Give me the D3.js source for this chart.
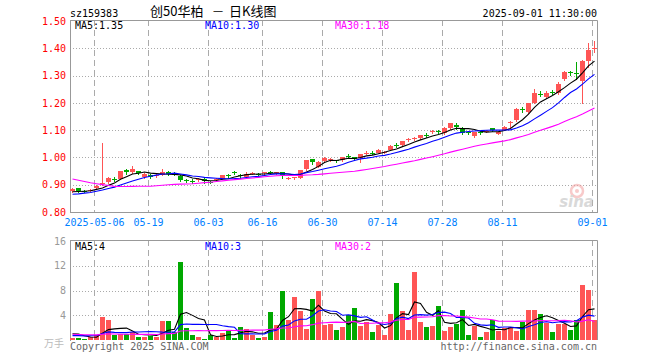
<!DOCTYPE html>
<html><head><meta charset="utf-8">
<script src="https://cdn.jsdelivr.net/npm/d3@7/dist/d3.min.js"></script>
<style>body{margin:0;background:#fff}svg{display:block}</style>
</head><body><svg id="c" width="660" height="360"></svg>
<script>
const dates = ["2025-04-25","2025-04-28","2025-04-29","2025-04-30","2025-05-06","2025-05-07","2025-05-08","2025-05-09","2025-05-12","2025-05-13",
"2025-05-14","2025-05-15","2025-05-16","2025-05-19","2025-05-20","2025-05-21","2025-05-22","2025-05-23","2025-05-26","2025-05-27",
"2025-05-28","2025-05-29","2025-05-30","2025-06-03","2025-06-04","2025-06-05","2025-06-06","2025-06-09","2025-06-10","2025-06-11",
"2025-06-12","2025-06-13","2025-06-16","2025-06-17","2025-06-18","2025-06-19","2025-06-20","2025-06-23","2025-06-24","2025-06-25",
"2025-06-26","2025-06-27","2025-06-30","2025-07-01","2025-07-02","2025-07-03","2025-07-04","2025-07-07","2025-07-08","2025-07-09",
"2025-07-10","2025-07-11","2025-07-14","2025-07-15","2025-07-16","2025-07-17","2025-07-18","2025-07-21","2025-07-22","2025-07-23",
"2025-07-24","2025-07-25","2025-07-28","2025-07-29","2025-07-30","2025-07-31","2025-08-01","2025-08-04","2025-08-05","2025-08-06",
"2025-08-07","2025-08-08","2025-08-11","2025-08-12","2025-08-13","2025-08-14","2025-08-15","2025-08-18","2025-08-19","2025-08-20",
"2025-08-21","2025-08-22","2025-08-25","2025-08-26","2025-08-27","2025-08-28","2025-08-29","2025-09-01"];
const opens = [0.878,0.888,0.877,0.878,0.890,0.905,0.910,0.922,0.921,0.954,
0.945,0.950,0.929,0.936,0.932,0.938,0.946,0.941,0.932,0.917,
0.915,0.917,0.921,0.911,0.918,0.923,0.936,0.946,0.934,0.930,
0.942,0.940,0.943,0.946,0.943,0.945,0.925,0.924,0.925,0.958,
0.993,0.966,0.987,0.991,0.990,0.990,1.007,1.000,0.996,1.015,
1.018,1.017,1.019,1.029,1.046,1.045,1.064,1.068,1.070,1.082,
1.093,1.096,1.088,1.107,1.119,1.107,1.094,1.077,1.094,1.095,
1.107,1.088,1.101,1.126,1.137,1.178,1.165,1.200,1.232,1.221,
1.240,1.234,1.287,1.313,1.308,1.280,1.352,1.398];
const highs = [0.887,0.889,0.879,0.884,0.899,1.054,0.928,0.928,0.952,0.958,
0.968,0.952,0.943,0.938,0.940,0.956,0.950,0.946,0.935,0.922,
0.920,0.925,0.923,0.915,0.924,0.937,0.938,0.950,0.938,0.946,
0.946,0.942,0.948,0.950,0.948,0.946,0.930,0.930,0.955,0.992,
0.995,0.986,1.000,0.997,0.992,1.003,1.014,1.002,1.012,1.022,
1.024,1.031,1.025,1.045,1.052,1.061,1.070,1.074,1.083,1.090,
1.100,1.100,1.112,1.126,1.125,1.110,1.098,1.095,1.098,1.100,
1.108,1.095,1.114,1.135,1.180,1.183,1.200,1.252,1.245,1.243,
1.246,1.276,1.317,1.318,1.348,1.356,1.421,1.428];
const lows = [0.875,0.874,0.872,0.876,0.888,0.900,0.908,0.912,0.920,0.938,
0.943,0.940,0.926,0.925,0.928,0.936,0.935,0.935,0.915,0.910,
0.908,0.915,0.908,0.905,0.915,0.921,0.925,0.938,0.926,0.928,
0.938,0.933,0.940,0.940,0.940,0.925,0.922,0.920,0.924,0.955,
0.975,0.964,0.985,0.987,0.983,0.988,0.998,0.990,0.985,1.012,
1.012,1.015,1.015,1.027,1.040,1.043,1.060,1.063,1.068,1.075,
1.090,1.088,1.087,1.106,1.105,1.086,1.085,1.075,1.086,1.092,
1.096,1.087,1.100,1.113,1.135,1.165,1.163,1.198,1.224,1.218,
1.232,1.232,1.285,1.303,1.288,1.200,1.330,1.388];
const closes = [0.885,0.876,0.875,0.882,0.897,0.908,0.926,0.918,0.950,0.945,
0.956,0.942,0.941,0.928,0.936,0.948,0.938,0.940,0.918,0.915,
0.913,0.922,0.912,0.910,0.920,0.936,0.932,0.944,0.932,0.941,
0.943,0.936,0.945,0.944,0.945,0.935,0.926,0.927,0.953,0.990,
0.982,0.984,0.998,0.994,0.987,1.002,1.005,0.993,1.011,1.017,
1.016,1.029,1.021,1.043,1.045,1.060,1.066,1.070,1.081,1.080,
1.097,1.093,1.107,1.125,1.113,1.090,1.092,1.092,1.092,1.097,
1.098,1.094,1.113,1.130,1.178,1.176,1.198,1.237,1.228,1.235,
1.236,1.268,1.312,1.311,1.306,1.354,1.394,1.401];
const volumes = [0.4,0.4,0.2,0.45,0.8,3.7,3.23,0.8,0.9,1.0,
1.35,0.55,0.55,0.65,0.55,3.1,3.1,1.35,12.65,2.0,
0.8,0.55,0.2,0.75,0.55,1.2,1.5,0.35,2.15,1.8,
0.8,0.3,0.55,4.6,2.4,7.97,3.3,7.0,4.7,1.8,
6.6,8.0,2.4,2.58,1.6,2.1,4.0,5.17,2.3,2.9,
1.3,2.4,0.8,4.2,9.2,4.7,1.67,11.0,2.9,2.1,
2.3,5.5,1.45,2.1,2.58,4.85,0.8,2.3,0.48,1.3,
3.23,1.4,1.9,2.15,1.45,2.9,4.85,4.85,4.2,2.8,
1.3,2.58,2.6,1.6,3.3,8.9,8.1,3.23];
// closes and volumes of the 29 sessions before the window (needed for the moving averages)
const priorCloses = [1.02,1.01,1.02,1.00,1.01,1.02,1.01,0.97,0.95,0.94,
0.93,0.94,0.93,0.88,0.89,0.88,0.90,0.89,0.90,0.89,
0.86,0.85,0.86,0.85,0.86,0.87,0.87,0.875,0.87];
const priorVolumes = [1.5,1.2,0.8,1.0,0.9,1.1,1.4,2.0,1.6,1.2,
0.9,0.8,0.7,0.9,1.0,0.8,0.6,0.7,0.8,0.7,
0.4,0.5,0.3,0.4,0.4,0.6,1.6,1.4,1.0];
const maPeriods = [5, 10, 30];
const maColors = ["#000000", "#0000ff", "#ff00ff"];
const priceTicks = [0.8,0.9,1.0,1.1,1.2,1.3,1.4,1.5];
const volumeTicks = [4,8,12,16];
const dateTicks = ["2025-05-06","2025-05-19","2025-06-03","2025-06-16","2025-06-30","2025-07-14","2025-07-28","2025-08-11","2025-09-01"];
const volumeLegendValues = [4, 3, 2];
const symbol = "sz159383";
const titleParts = ["创50华柏", "一", "日K线图"];
const stamp = "2025-09-01 11:30:00";

const RED = "#ff5555", GREEN = "#00a800", GRID = "#aaaaaa", BORDER = "#999999";
const MONO = "'DejaVu Sans Mono', monospace";
const CJK = "'Noto Sans CJK SC', sans-serif";
const svg = d3.select("#c");
const L = 70, R = 598;
const x = d3.scaleBand().domain(dates).range([L, R]).padding(0);
const bw = x.bandwidth() - 1;
const cx = d => x(d) + bw / 2;
const y = d3.scaleLinear().domain([0.8, 1.5]).range([212, 21]);
const yv = d3.scaleLinear().domain([0, 16]).range([340, 241]);
const idx = d3.range(dates.length);

function ma(series, prior, n) {
  const all = prior.concat(series);
  const off = prior.length;
  return idx.map(i => d3.mean(all.slice(off + i - n + 1, off + i + 1)));
}

const pTop = 20, pBot = 212, vTop = 240, vBot = 340;
function gridPanel(top, bot, yScale, ticks) {
  const g = svg.append("g");
  g.selectAll("line.h").data(ticks).join("line")
    .attr("x1", L).attr("x2", R - 1)
    .attr("y1", d => Math.round(yScale(d)) + 0.5).attr("y2", d => Math.round(yScale(d)) + 0.5)
    .attr("stroke", GRID).attr("stroke-dasharray", "1,2");
  g.selectAll("line.v").data(dateTicks).join("line")
    .attr("x1", d => x(d) + 0.5).attr("x2", d => x(d) + 0.5)
    .attr("y1", top).attr("y2", bot)
    .attr("stroke", GRID).attr("stroke-dasharray", "6,4");
  g.append("path").attr("d", `M${L + 0.5},${top + 0.5}H${R - 0.5}V${bot}`)
    .attr("fill", "none").attr("stroke", BORDER);
  g.append("line").attr("x1", L + 0.5).attr("x2", L + 0.5).attr("y1", top).attr("y2", bot + 1)
    .attr("stroke", BORDER);
}
gridPanel(pTop, pBot, y, priceTicks.filter(t => t > 0.8 && t < 1.5));
svg.append("line").attr("x1", L).attr("x2", R).attr("y1", pBot + 0.5).attr("y2", pBot + 0.5).attr("stroke", BORDER);
gridPanel(vTop, vBot, yv, volumeTicks.filter(t => t < 16));

// sina watermark
const wm = svg.append("g").attr("opacity", 0.55);
wm.append("circle").attr("cx", 577).attr("cy", 191).attr("r", 6).attr("fill", "none").attr("stroke", "#f3a0a0").attr("stroke-width", 2.5);
wm.append("circle").attr("cx", 577).attr("cy", 191).attr("r", 2).attr("fill", "#f3a0a0");
wm.append("text").attr("x", 594).attr("y", 207).attr("text-anchor", "end")
  .attr("font-family", "'DejaVu Sans', sans-serif").attr("font-style", "italic").attr("font-weight", "bold")
  .attr("font-size", 15).attr("fill", "#bbbbbb").text("sina");

// price axis
const ya = svg.append("g").attr("transform", `translate(${L},0)`)
  .call(d3.axisLeft(y).tickValues(priceTicks).tickFormat(d3.format(".2f")).tickSize(0).tickPadding(4));
ya.select(".domain").remove();
ya.selectAll("text").attr("fill", "#ff0000").attr("font-family", MONO).attr("font-size", 10);

// date axis
const xa = svg.append("g").attr("transform", `translate(0,${pBot})`)
  .call(d3.axisBottom(x).tickValues(dateTicks).tickSize(0).tickPadding(7)
    .tickFormat((d, i) => i === 0 ? d : d.slice(5)));
xa.select(".domain").remove();
xa.selectAll(".tick").attr("transform", d => `translate(${x(d) + 0.5},0)`);
xa.selectAll("text").attr("fill", "#0080ff").attr("font-family", MONO).attr("font-size", 10);

// candles
const cg = svg.append("g");
cg.selectAll("line").data(idx).join("line")
  .attr("x1", i => x(dates[i]) + 2.5).attr("x2", i => x(dates[i]) + 2.5)
  .attr("y1", i => Math.round(y(highs[i]))).attr("y2", i => Math.round(y(lows[i])) + 1)
  .attr("stroke", i => closes[i] >= opens[i] ? RED : GREEN);
cg.selectAll("rect").data(idx).join("rect")
  .attr("x", i => x(dates[i])).attr("width", bw)
  .attr("y", i => Math.round(y(Math.max(opens[i], closes[i]))))
  .attr("height", i => Math.max(1, Math.round(Math.abs(y(opens[i]) - y(closes[i])))))
  .attr("fill", i => closes[i] >= opens[i] ? RED : GREEN);

// price MAs
const line = d3.line().x((d, i) => cx(dates[i])).y(d => d);
maPeriods.forEach((n, k) => {
  const m = ma(closes, priorCloses, n);
  svg.append("path").attr("d", line(m.map(v => y(v))))
    .attr("fill", "none").attr("stroke", maColors[k]).attr("stroke-width", 1.1);
});

// volume bars
svg.append("g").selectAll("rect").data(idx).join("rect")
  .attr("x", i => x(dates[i])).attr("width", bw)
  .attr("y", i => Math.round(yv(volumes[i])))
  .attr("height", i => vBot - Math.round(yv(volumes[i])))
  .attr("fill", i => closes[i] >= opens[i] ? RED : GREEN);
maPeriods.forEach((n, k) => {
  const m = ma(volumes, priorVolumes, n);
  svg.append("path").attr("d", line(m.map(v => yv(v))))
    .attr("fill", "none").attr("stroke", maColors[k]).attr("stroke-width", 1.1);
});

// volume axis
const va = svg.append("g").attr("transform", `translate(${L},0)`)
  .call(d3.axisLeft(yv).tickValues(volumeTicks).tickSize(0).tickPadding(4));
va.select(".domain").remove();
va.selectAll("text").attr("fill", "#999999").attr("font-family", MONO).attr("font-size", 10);
svg.append("text").attr("x", 64).attr("y", 347).attr("text-anchor", "end")
  .attr("font-family", CJK).attr("font-size", 10).attr("fill", "#bbbbbb").text("万手");

// texts
const T = (xx, yy, s, col, anchor, font, size) => svg.append("text").attr("x", xx).attr("y", yy)
  .attr("text-anchor", anchor || "start").attr("font-family", font || MONO).attr("font-size", size || 10)
  .attr("fill", col).text(s);
T(L, 17, symbol, "#000");
T(150, 16, titleParts[0], "#000", "start", CJK, 13);
T(218, 16, titleParts[1], "#000", "middle", CJK, 10);
T(229, 16, titleParts[2], "#000", "start", CJK, 13);
T(R - 1, 17, stamp, "#000", "end");
const legendX = [75, 205, 335];
maPeriods.forEach((n, k) => {
  const m = ma(closes, priorCloses, n);
  T(legendX[k], 29, `MA${n}:${m[m.length - 1].toFixed(2)}`, maColors[k]);
  T(legendX[k], 250, `MA${n}:${volumeLegendValues[k]}`, maColors[k]);
});
T(L, 350, "Copyright 2025 SINA.COM", "#666666");
T(R - 1, 350, "http://finance.sina.com.cn", "#666666", "end");
</script></body></html>
